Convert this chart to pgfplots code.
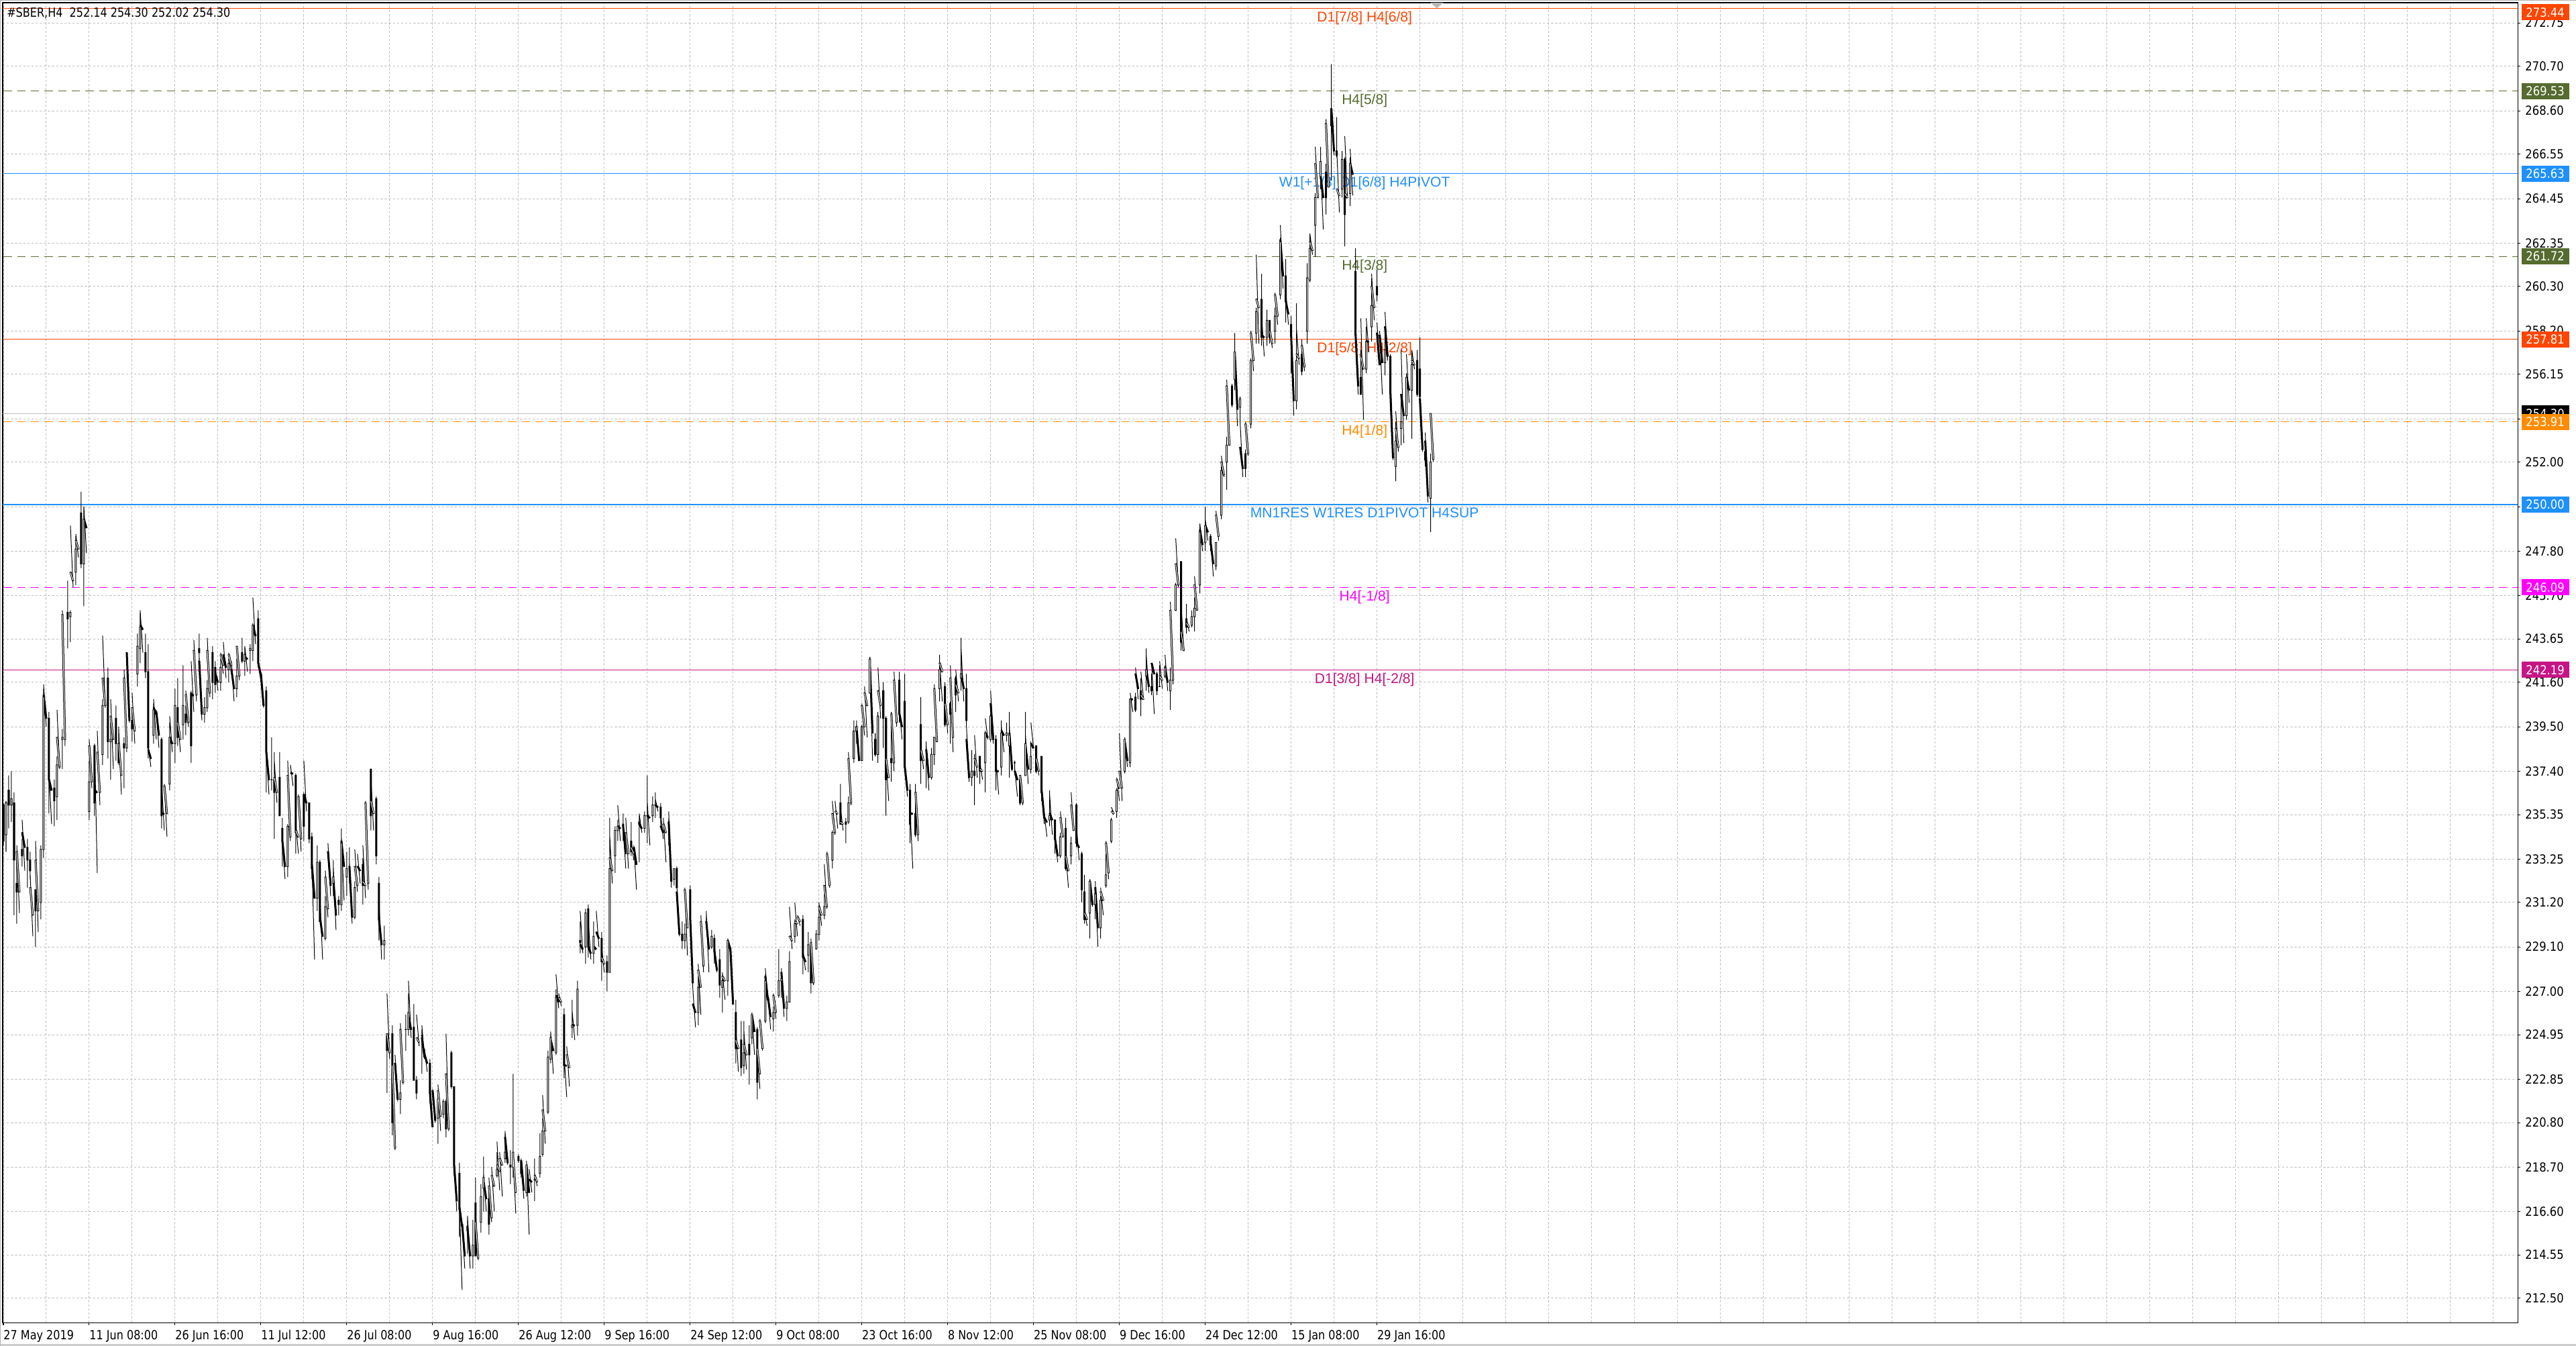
\documentclass[border=0pt]{standalone}
\usepackage{pgfplots}
\pgfplotsset{compat=1.18}
\usepackage{pgfplotstable}
\usepackage{fontspec}
\setmainfont{Liberation Sans}
\newfontfamily\datefam[FakeStretch=0.85]{DejaVu Sans}
\newfontfamily\pricefam[FakeStretch=0.88]{DejaVu Sans}
\newcommand\dfont{\datefam\fontsize{7.7}{9}\selectfont}
\newcommand\pfont{\pricefam\fontsize{7.6}{8.5}\selectfont}
\newcommand\lfont{\fontsize{8.6}{10}\selectfont}
\definecolor{orangered}{HTML}{FF4500}
\definecolor{olivedk}{HTML}{556B2F}
\definecolor{dodger}{HTML}{1E90FF}
\definecolor{darkorange}{HTML}{FF8C00}
\definecolor{magentac}{HTML}{FF00FF}
\definecolor{mvred}{HTML}{C71585}
\definecolor{gridgray}{HTML}{C0C0C0}

% each candle: (high, body top, up), (low, body bottom, up), separator
\pgfplotstableread{
w b u
235.9 235.8 0
233.9 234.1 0
nan nan 0
236.0 235.9 1
233.6 234.4 1
nan nan 0
237.2 236.5 0
234.7 235.8 0
nan nan 0
237.4 236.1 1
235.0 235.8 1
nan nan 0
236.4 235.9 0
230.6 233.2 0
nan nan 0
233.5 232.1 0
230.2 231.7 0
nan nan 0
233.9 233.6 1
230.7 231.7 1
nan nan 0
234.2 233.7 0
232.9 233.4 0
nan nan 0
235.1 234.5 0
232.7 233.8 0
nan nan 0
234.2 233.8 0
231.9 233.2 0
nan nan 0
233.6 233.2 0
232.3 232.7 0
nan nan 0
232.5 231.9 1
229.6 230.6 1
nan nan 0
231.8 231.8 0
229.1 230.8 0
nan nan 0
234.1 233.2 1
229.8 230.8 1
nan nan 0
233.9 233.7 1
230.4 231.2 1
nan nan 0
241.3 240.9 1
233.3 233.7 1
nan nan 0
241.5 241.0 0
239.5 239.9 0
nan nan 0
240.2 239.9 0
235.4 237.0 0
nan nan 0
237.3 237.0 0
234.9 236.5 0
nan nan 0
237.0 236.6 0
234.8 236.0 0
nan nan 0
238.1 237.7 1
235.1 236.2 1
nan nan 0
240.3 239.0 1
237.5 237.6 1
nan nan 0
239.4 239.0 1
237.5 238.9 1
nan nan 0
245.0 244.8 1
238.6 238.9 1
nan nan 0
246.4 244.9 0
243.2 244.6 0
nan nan 0
245.0 244.9 1
243.5 244.7 1
nan nan 0
249.0 246.8 1
246.1 246.4 1
nan nan 0
248.5 247.9 1
246.2 246.8 1
nan nan 0
248.6 248.3 1
247.5 247.9 1
nan nan 0
250.6 249.6 0
247.0 247.2 0
nan nan 0
249.9 249.3 1
245.2 247.2 1
nan nan 0
249.9 249.3 0
247.7 248.9 0
nan nan 0
237.9 236.9 1
235.1 235.5 1
nan nan 0
238.9 238.6 1
236.6 236.9 1
nan nan 0
238.7 238.6 0
235.3 235.9 0
nan nan 0
238.7 236.5 0
232.6 236.4 0
nan nan 0
239.3 238.3 1
235.8 236.4 1
nan nan 0
240.8 240.5 1
237.7 238.2 1
nan nan 0
243.8 241.8 1
240.4 240.5 1
nan nan 0
242.3 241.8 0
238.0 238.8 0
nan nan 0
239.7 238.9 1
237.0 238.8 1
nan nan 0
240.8 240.0 1
237.5 238.9 1
nan nan 0
240.5 239.9 0
237.9 238.7 0
nan nan 0
239.5 238.7 0
237.7 237.8 0
nan nan 0
239.4 238.7 1
236.3 237.2 1
nan nan 0
239.0 238.7 0
236.6 238.5 0
nan nan 0
242.2 241.8 1
238.3 238.5 1
nan nan 0
243.0 243.0 0
239.7 239.8 0
nan nan 0
240.4 239.8 0
238.8 239.4 0
nan nan 0
241.1 240.4 1
238.7 239.3 1
nan nan 0
243.9 243.3 1
241.4 242.0 1
nan nan 0
244.9 244.2 1
242.5 243.2 1
nan nan 0
245.0 244.3 0
243.0 244.1 0
nan nan 0
243.9 243.0 0
241.8 242.1 0
nan nan 0
243.4 242.1 0
238.0 238.5 0
nan nan 0
238.6 238.4 0
237.6 238.0 0
nan nan 0
240.6 240.3 1
238.7 239.1 1
nan nan 0
240.8 240.4 0
238.9 240.1 0
nan nan 0
240.3 240.2 0
238.5 239.1 0
nan nan 0
239.0 238.9 0
234.7 235.3 0
nan nan 0
236.8 235.4 0
234.6 235.4 0
nan nan 0
236.8 236.7 1
234.3 235.4 1
nan nan 0
239.7 239.0 1
236.5 236.8 1
nan nan 0
240.0 239.0 0
238.3 238.7 0
nan nan 0
241.3 240.5 1
237.8 238.7 1
nan nan 0
241.8 240.4 0
238.6 239.0 0
nan nan 0
239.9 239.7 1
238.3 238.9 1
nan nan 0
242.4 240.5 1
238.9 239.6 1
nan nan 0
240.5 240.1 0
239.1 239.7 0
nan nan 0
241.2 241.0 1
239.5 239.7 1
nan nan 0
241.2 241.1 0
237.8 238.6 0
nan nan 0
242.6 241.0 0
240.2 241.0 0
nan nan 0
243.6 243.1 1
240.7 241.0 1
nan nan 0
243.9 243.2 0
242.3 243.0 0
nan nan 0
242.8 242.6 0
239.8 240.1 0
nan nan 0
240.9 240.4 1
239.7 240.1 1
nan nan 0
241.7 241.3 1
240.2 240.4 1
nan nan 0
243.7 243.1 1
240.9 241.1 1
nan nan 0
243.3 243.0 0
240.8 241.6 0
nan nan 0
242.6 242.3 0
241.1 241.5 0
nan nan 0
242.3 242.0 0
241.2 241.6 0
nan nan 0
242.7 242.3 1
241.2 241.6 1
nan nan 0
243.0 242.9 1
242.0 242.4 1
nan nan 0
243.5 242.9 0
241.8 242.3 0
nan nan 0
242.7 242.5 1
241.6 242.2 1
nan nan 0
243.0 242.9 1
242.0 242.4 1
nan nan 0
242.6 242.2 0
240.7 241.3 0
nan nan 0
242.7 241.9 1
240.9 241.3 1
nan nan 0
243.3 243.3 1
241.7 241.9 1
nan nan 0
243.7 243.0 0
242.5 242.6 0
nan nan 0
243.3 242.9 1
241.9 242.6 1
nan nan 0
243.3 242.8 0
242.1 242.7 0
nan nan 0
243.4 243.2 1
242.0 243.1 1
nan nan 0
244.4 244.3 1
242.6 243.1 1
nan nan 0
245.6 244.3 0
243.4 243.8 0
nan nan 0
245.0 244.6 0
242.3 242.5 0
nan nan 0
242.7 242.5 0
241.6 241.9 0
nan nan 0
242.1 242.0 0
240.4 240.5 0
nan nan 0
241.4 241.2 0
236.4 238.3 0
nan nan 0
238.5 238.3 0
236.3 237.0 0
nan nan 0
239.0 237.0 0
236.5 237.0 0
nan nan 0
238.3 237.0 0
234.2 236.4 0
nan nan 0
237.9 237.1 1
235.9 236.4 1
nan nan 0
238.3 237.1 0
235.3 235.3 0
nan nan 0
235.2 234.7 0
232.9 234.1 0
nan nan 0
234.2 234.1 0
232.3 232.9 0
nan nan 0
234.9 234.8 1
232.4 232.9 1
nan nan 0
237.9 237.2 1
234.1 234.3 1
nan nan 0
237.7 237.3 0
236.7 237.3 0
nan nan 0
237.3 237.2 0
233.5 234.5 0
nan nan 0
234.9 234.6 1
233.5 234.3 1
nan nan 0
236.3 236.2 1
233.6 234.2 1
nan nan 0
236.4 236.3 0
234.1 234.8 0
nan nan 0
237.9 236.3 0
235.5 235.9 0
nan nan 0
235.9 235.9 0
234.0 234.2 0
nan nan 0
234.5 234.3 0
232.3 232.8 0
nan nan 0
233.2 233.0 0
228.5 231.4 0
nan nan 0
233.9 233.1 1
230.8 231.4 1
nan nan 0
233.2 233.1 0
230.3 230.3 0
nan nan 0
231.5 230.5 0
228.5 229.6 0
nan nan 0
231.5 231.0 1
229.4 229.5 1
nan nan 0
232.7 232.4 1
230.5 230.9 1
nan nan 0
234.0 233.6 0
231.5 232.0 0
nan nan 0
233.2 232.4 1
231.5 232.1 1
nan nan 0
232.9 232.3 0
229.9 230.6 0
nan nan 0
231.5 231.3 0
230.6 231.1 0
nan nan 0
234.7 234.0 1
230.8 231.1 1
nan nan 0
234.3 234.1 0
231.3 232.9 0
nan nan 0
233.6 232.8 1
231.5 232.4 1
nan nan 0
233.8 232.9 0
232.1 232.9 0
nan nan 0
233.1 232.9 0
230.2 230.5 0
nan nan 0
232.2 231.9 1
230.4 230.5 1
nan nan 0
233.7 232.9 1
231.7 232.0 1
nan nan 0
233.5 232.9 0
232.1 232.7 0
nan nan 0
233.3 233.0 0
231.1 232.0 0
nan nan 0
233.9 232.2 1
231.4 232.0 1
nan nan 0
236.0 235.9 1
231.8 232.1 1
nan nan 0
237.5 237.5 0
234.6 235.3 0
nan nan 0
237.1 236.0 1
234.6 235.4 1
nan nan 0
236.2 236.1 0
233.0 233.4 0
nan nan 0
232.4 232.1 0
229.4 230.4 0
nan nan 0
231.3 230.4 0
228.5 229.2 0
nan nan 0
230.1 229.4 1
228.5 229.2 1
nan nan 0
224.9 224.9 0
222.2 224.2 0
nan nan 0
226.9 225.0 1
223.8 224.1 1
nan nan 0
225.4 225.0 0
220.2 220.8 0
nan nan 0
223.8 223.5 1
219.5 219.6 1
nan nan 0
224.0 223.6 0
221.8 221.9 0
nan nan 0
222.8 222.2 1
221.2 221.9 1
nan nan 0
225.5 225.2 1
222.6 222.7 1
nan nan 0
225.9 225.2 0
224.2 225.2 0
nan nan 0
226.9 226.0 1
224.9 225.2 1
nan nan 0
227.5 225.8 0
224.8 225.2 0
nan nan 0
226.4 225.3 0
222.8 222.8 0
nan nan 0
223.0 222.8 0
221.9 222.2 0
nan nan 0
225.9 224.8 1
224.4 224.6 1
nan nan 0
225.2 224.9 0
223.1 224.9 0
nan nan 0
225.4 224.8 0
223.8 223.9 0
nan nan 0
224.3 224.0 0
223.2 223.6 0
nan nan 0
223.8 223.6 0
221.7 222.2 0
nan nan 0
222.8 222.2 0
220.6 220.6 0
nan nan 0
222.4 222.3 0
220.8 220.9 0
nan nan 0
222.2 221.9 1
219.8 221.0 1
nan nan 0
222.6 222.3 1
220.4 221.1 1
nan nan 0
221.9 221.8 1
221.0 221.2 1
nan nan 0
221.9 221.8 0
220.1 220.5 0
nan nan 0
225.0 223.1 1
220.4 220.5 1
nan nan 0
224.2 224.1 0
222.4 222.5 0
nan nan 0
222.5 222.5 0
218.3 218.8 0
nan nan 0
219.2 218.8 0
216.6 217.1 0
nan nan 0
218.9 218.4 0
215.4 216.7 0
nan nan 0
216.9 216.8 0
212.9 215.9 0
nan nan 0
216.0 216.0 0
213.9 214.5 0
nan nan 0
216.3 215.9 0
214.6 215.7 0
nan nan 0
216.4 215.8 0
213.9 214.5 0
nan nan 0
216.2 215.0 1
213.9 214.5 1
nan nan 0
218.2 217.0 0
214.5 214.5 0
nan nan 0
216.6 216.1 1
214.3 214.4 1
nan nan 0
217.9 217.3 1
215.6 216.1 1
nan nan 0
219.2 218.2 1
216.6 217.7 1
nan nan 0
218.4 218.0 0
216.6 217.2 0
nan nan 0
217.7 217.2 0
215.5 216.0 0
nan nan 0
218.2 217.8 1
216.1 216.3 1
nan nan 0
218.7 218.3 1
216.6 217.8 1
nan nan 0
219.4 218.6 1
218.2 218.3 1
nan nan 0
219.9 218.8 1
217.6 218.5 1
nan nan 0
219.4 219.1 1
217.3 218.8 1
nan nan 0
220.3 219.4 1
218.9 219.1 1
nan nan 0
220.4 220.1 0
218.8 218.9 0
nan nan 0
219.5 218.8 0
217.9 218.7 0
nan nan 0
223.1 219.4 1
218.2 218.7 1
nan nan 0
219.4 219.2 1
216.5 217.5 1
nan nan 0
219.3 219.2 0
218.9 219.0 0
nan nan 0
219.1 219.0 0
218.2 218.4 0
nan nan 0
219.1 219.0 0
217.2 217.6 0
nan nan 0
218.8 218.8 1
217.3 217.5 1
nan nan 0
219.0 218.8 0
215.5 217.5 0
nan nan 0
218.6 218.1 0
217.5 218.0 0
nan nan 0
219.1 218.1 0
217.1 218.1 0
nan nan 0
218.4 218.3 1
217.8 218.0 1
nan nan 0
220.3 219.2 1
218.2 218.4 1
nan nan 0
221.0 220.4 1
219.2 219.3 1
nan nan 0
222.1 221.4 1
219.8 220.4 1
nan nan 0
224.2 223.9 1
221.2 221.3 1
nan nan 0
225.1 224.8 1
223.6 223.8 1
nan nan 0
225.1 224.7 0
223.1 224.2 0
nan nan 0
227.1 226.7 1
224.0 224.1 1
nan nan 0
227.8 226.8 0
226.2 226.5 0
nan nan 0
226.9 226.7 1
226.3 226.5 1
nan nan 0
226.2 225.9 0
222.9 223.5 0
nan nan 0
224.0 223.5 0
222.0 223.5 0
nan nan 0
224.4 224.0 1
222.5 223.4 1
nan nan 0
226.6 225.4 1
224.8 225.3 1
nan nan 0
226.1 225.4 0
224.7 225.4 0
nan nan 0
227.5 227.1 1
224.9 225.4 1
nan nan 0
230.3 229.4 0
228.8 229.3 0
nan nan 0
230.8 229.2 0
228.8 229.0 0
nan nan 0
230.9 230.7 1
228.3 229.1 1
nan nan 0
231.1 230.9 0
228.6 229.1 0
nan nan 0
230.4 229.1 0
228.5 228.8 0
nan nan 0
230.3 229.6 1
228.3 228.8 1
nan nan 0
229.2 229.1 0
229.0 229.0 0
nan nan 0
230.8 229.8 0
229.1 229.5 0
nan nan 0
229.8 229.5 0
227.5 228.4 0
nan nan 0
229.1 228.6 1
227.9 228.3 1
nan nan 0
228.7 228.4 0
227.0 227.9 0
nan nan 0
235.2 232.8 1
227.9 227.9 1
nan nan 0
234.4 233.3 1
232.1 232.7 1
nan nan 0
234.8 234.6 1
232.6 233.4 1
nan nan 0
235.1 234.8 1
234.1 234.6 1
nan nan 0
235.8 234.8 0
234.1 234.7 0
nan nan 0
235.4 234.9 0
234.1 234.8 0
nan nan 0
234.9 234.8 0
232.8 233.5 0
nan nan 0
235.2 234.5 1
232.8 233.5 1
nan nan 0
235.0 234.1 0
233.4 233.6 0
nan nan 0
234.1 233.8 1
233.2 233.5 1
nan nan 0
233.9 233.8 0
231.8 233.0 0
nan nan 0
235.3 235.0 0
233.1 234.9 0
nan nan 0
235.4 234.9 0
234.5 234.7 0
nan nan 0
235.5 235.3 1
234.5 234.7 1
nan nan 0
237.2 235.3 0
234.0 235.3 0
nan nan 0
236.0 235.3 0
233.9 235.2 0
nan nan 0
236.2 235.8 1
235.0 235.3 1
nan nan 0
236.4 235.8 0
235.2 235.8 0
nan nan 0
236.1 235.8 0
235.5 235.7 0
nan nan 0
235.9 235.7 0
234.8 235.2 0
nan nan 0
235.4 234.8 0
234.2 234.5 0
nan nan 0
235.2 234.9 1
233.1 234.5 1
nan nan 0
235.2 234.9 0
233.9 234.9 0
nan nan 0
235.5 235.0 0
231.9 232.2 0
nan nan 0
232.8 232.8 1
232.0 232.3 1
nan nan 0
232.9 232.8 0
231.9 231.9 0
nan nan 0
232.1 231.7 0
229.6 229.7 0
nan nan 0
230.3 229.7 0
229.0 229.4 0
nan nan 0
230.2 229.7 1
229.0 229.4 1
nan nan 0
231.9 231.8 1
228.7 230.0 1
nan nan 0
232.0 231.8 0
230.4 230.5 0
nan nan 0
230.6 230.5 0
227.1 227.4 0
nan nan 0
227.1 226.4 0
225.3 226.0 0
nan nan 0
227.7 227.2 1
225.4 226.0 1
nan nan 0
228.3 228.0 1
225.9 227.2 1
nan nan 0
230.6 230.3 1
227.9 228.2 1
nan nan 0
230.6 230.3 0
230.0 230.3 0
nan nan 0
230.8 230.3 0
227.9 229.0 0
nan nan 0
229.9 229.6 1
229.0 229.1 1
nan nan 0
229.7 229.5 0
228.3 228.9 0
nan nan 0
229.3 228.9 0
227.9 228.0 0
nan nan 0
229.0 228.5 0
226.7 227.3 0
nan nan 0
227.8 227.5 1
226.0 227.2 1
nan nan 0
227.9 227.7 1
226.6 227.5 1
nan nan 0
229.5 229.4 1
226.8 227.5 1
nan nan 0
229.5 229.4 0
228.8 229.0 0
nan nan 0
229.1 229.0 0
226.4 226.4 0
nan nan 0
226.6 226.0 0
223.6 224.3 0
nan nan 0
225.3 224.7 1
223.2 224.3 1
nan nan 0
225.6 224.7 0
223.0 223.4 0
nan nan 0
225.6 224.1 1
223.1 223.5 1
nan nan 0
225.2 224.5 1
223.3 224.0 1
nan nan 0
225.4 224.5 0
222.6 224.0 0
nan nan 0
226.0 225.9 1
224.5 224.8 1
nan nan 0
226.0 225.9 0
224.0 225.1 0
nan nan 0
225.3 225.2 0
221.9 222.7 0
nan nan 0
224.5 224.3 1
222.4 223.1 1
nan nan 0
225.7 225.6 1
224.2 224.3 1
nan nan 0
227.8 227.5 1
225.5 225.6 1
nan nan 0
228.1 227.7 0
226.6 226.6 0
nan nan 0
226.8 226.7 0
225.2 225.8 0
nan nan 0
226.3 226.0 1
225.1 225.7 1
nan nan 0
226.9 226.8 1
225.7 226.0 1
nan nan 0
229.0 227.5 1
226.7 226.8 1
nan nan 0
228.1 227.6 1
226.7 227.5 1
nan nan 0
227.9 227.9 0
225.8 226.2 0
nan nan 0
226.8 226.5 1
225.6 226.2 1
nan nan 0
228.9 228.4 1
226.5 226.5 1
nan nan 0
231.0 229.6 1
229.0 229.4 1
nan nan 0
230.4 230.2 1
229.3 229.6 1
nan nan 0
231.2 230.3 1
229.6 230.2 1
nan nan 0
230.6 230.5 1
230.1 230.3 1
nan nan 0
230.6 230.4 0
227.8 228.6 0
nan nan 0
229.0 228.7 0
228.0 228.4 0
nan nan 0
229.8 229.2 1
227.9 228.7 1
nan nan 0
229.3 229.2 0
226.9 227.4 0
nan nan 0
229.5 229.3 1
227.3 227.4 1
nan nan 0
229.9 229.7 1
229.0 229.0 1
nan nan 0
231.1 230.5 1
229.4 229.7 1
nan nan 0
231.2 231.0 1
230.1 230.6 1
nan nan 0
231.6 231.0 1
230.4 230.6 1
nan nan 0
233.0 232.0 1
230.9 231.0 1
nan nan 0
233.6 233.5 1
231.9 232.0 1
nan nan 0
234.6 234.5 1
232.8 233.2 1
nan nan 0
236.0 235.4 1
234.4 234.5 1
nan nan 0
236.0 235.5 1
234.7 235.4 1
nan nan 0
236.8 235.9 0
234.9 234.9 0
nan nan 0
235.7 235.0 1
234.6 234.9 1
nan nan 0
235.2 235.0 0
234.0 234.9 0
nan nan 0
236.2 235.9 1
234.9 235.0 1
nan nan 0
238.3 238.0 1
235.8 235.9 1
nan nan 0
239.8 239.3 1
237.8 238.0 1
nan nan 0
239.8 239.5 1
238.7 239.3 1
nan nan 0
239.7 239.5 0
237.9 237.9 0
nan nan 0
239.6 239.5 1
237.9 237.9 1
nan nan 0
240.6 240.5 1
239.1 239.5 1
nan nan 0
241.4 241.1 1
239.0 240.5 1
nan nan 0
242.8 242.7 1
241.1 241.1 1
nan nan 0
242.6 242.5 0
237.9 239.2 0
nan nan 0
239.2 238.9 0
238.1 238.2 0
nan nan 0
240.2 240.0 1
237.8 238.2 1
nan nan 0
242.3 241.2 1
239.9 240.5 1
nan nan 0
241.6 241.2 0
238.5 239.9 0
nan nan 0
240.0 239.9 0
235.3 237.0 0
nan nan 0
238.0 238.0 1
236.0 237.1 1
nan nan 0
240.2 238.0 0
236.9 237.8 0
nan nan 0
240.2 240.1 1
237.4 237.8 1
nan nan 0
242.1 241.7 1
239.5 239.7 1
nan nan 0
242.1 241.7 0
239.7 240.1 0
nan nan 0
240.3 240.1 0
238.9 239.5 0
nan nan 0
242.0 240.7 0
237.5 237.6 0
nan nan 0
237.7 237.6 0
236.2 236.5 0
nan nan 0
236.8 236.5 0
234.0 234.9 0
nan nan 0
235.5 235.4 0
232.8 235.4 0
nan nan 0
236.8 235.4 0
234.3 234.4 0
nan nan 0
236.4 236.4 1
234.1 234.4 1
nan nan 0
240.9 239.6 0
236.8 237.9 0
nan nan 0
238.6 238.4 1
237.5 237.9 1
nan nan 0
238.8 238.4 0
236.6 238.4 0
nan nan 0
238.6 238.4 0
236.5 237.1 0
nan nan 0
238.5 238.2 1
237.0 237.1 1
nan nan 0
239.0 239.0 1
237.7 238.2 1
nan nan 0
241.5 241.3 1
238.8 238.8 1
nan nan 0
242.9 242.2 1
240.7 241.3 1
nan nan 0
242.5 242.5 1
240.7 242.1 1
nan nan 0
241.6 241.4 0
239.5 239.6 0
nan nan 0
240.8 240.6 1
239.2 239.6 1
nan nan 0
240.7 240.6 0
238.7 240.1 0
nan nan 0
242.4 241.8 1
238.3 239.0 1
nan nan 0
241.9 241.8 0
240.2 241.0 0
nan nan 0
242.2 241.5 1
240.7 241.1 1
nan nan 0
243.7 242.0 1
241.2 241.8 1
nan nan 0
243.2 242.0 0
240.7 241.3 0
nan nan 0
242.0 241.3 0
239.5 239.8 0
nan nan 0
239.5 238.9 0
236.9 237.1 0
nan nan 0
238.4 237.4 1
236.7 237.1 1
nan nan 0
238.2 237.4 0
235.8 237.2 0
nan nan 0
239.1 238.0 1
237.1 237.6 1
nan nan 0
238.1 238.1 0
236.8 237.4 0
nan nan 0
237.8 237.5 1
237.0 237.4 1
nan nan 0
239.3 239.2 1
236.4 237.8 1
nan nan 0
239.9 239.2 0
238.9 239.0 0
nan nan 0
240.1 240.0 1
238.8 238.9 1
nan nan 0
241.2 240.6 0
238.7 238.9 0
nan nan 0
239.1 238.9 0
236.5 237.4 0
nan nan 0
237.9 237.4 0
236.3 237.4 0
nan nan 0
239.8 239.2 1
237.2 237.6 1
nan nan 0
239.5 239.3 0
238.3 239.1 0
nan nan 0
239.7 239.2 1
238.8 239.1 1
nan nan 0
240.2 239.1 1
237.1 238.6 1
nan nan 0
239.5 239.2 0
237.4 237.5 0
nan nan 0
237.9 237.8 0
237.2 237.8 0
nan nan 0
237.5 237.4 0
236.2 237.0 0
nan nan 0
237.1 237.0 0
235.8 235.9 0
nan nan 0
237.2 237.2 1
235.8 235.9 1
nan nan 0
240.2 238.7 1
237.2 237.2 1
nan nan 0
239.1 238.6 0
236.8 237.5 0
nan nan 0
238.8 238.1 1
237.3 237.5 1
nan nan 0
239.7 238.7 0
238.5 238.5 0
nan nan 0
238.6 238.6 0
237.3 237.4 0
nan nan 0
238.1 238.0 1
237.2 237.4 1
nan nan 0
238.1 238.1 0
236.0 236.4 0
nan nan 0
236.5 236.5 0
234.9 235.2 0
nan nan 0
235.4 235.2 0
234.3 235.0 0
nan nan 0
236.5 235.3 1
234.8 235.1 1
nan nan 0
236.3 235.4 0
234.4 235.1 0
nan nan 0
235.1 235.1 0
233.5 234.2 0
nan nan 0
234.3 234.2 0
233.1 233.4 0
nan nan 0
234.5 234.3 1
233.3 233.4 1
nan nan 0
235.5 235.2 1
234.3 234.3 1
nan nan 0
235.2 234.7 0
232.7 232.8 0
nan nan 0
233.5 233.4 1
231.9 232.7 1
nan nan 0
234.3 234.0 1
233.0 233.4 1
nan nan 0
236.4 235.8 1
234.6 234.6 1
nan nan 0
235.9 235.8 0
233.8 234.0 0
nan nan 0
234.8 234.0 0
233.2 233.8 0
nan nan 0
233.6 233.5 0
231.2 231.8 0
nan nan 0
232.5 231.7 0
230.2 230.4 0
nan nan 0
230.7 230.7 1
230.1 230.4 1
nan nan 0
232.3 232.2 1
229.5 230.7 1
nan nan 0
232.3 232.2 0
231.0 231.1 0
nan nan 0
231.9 231.6 1
230.4 231.1 1
nan nan 0
232.2 231.9 0
229.1 230.0 0
nan nan 0
231.5 231.3 1
229.5 230.0 1
nan nan 0
231.9 231.7 1
230.6 231.3 1
nan nan 0
233.5 232.5 1
231.9 232.0 1
nan nan 0
234.1 234.0 1
232.3 232.6 1
nan nan 0
235.2 235.1 1
234.0 234.1 1
nan nan 0
235.7 235.5 1
235.4 235.4 1
nan nan 0
236.6 236.5 1
235.2 235.5 1
nan nan 0
237.1 237.0 1
236.0 236.6 1
nan nan 0
239.2 237.4 1
236.0 236.6 1
nan nan 0
238.9 238.9 1
237.3 237.4 1
nan nan 0
239.0 238.8 0
237.6 237.9 0
nan nan 0
240.8 240.8 1
237.6 237.8 1
nan nan 0
241.1 240.8 0
240.2 240.8 0
nan nan 0
241.1 240.9 0
240.2 240.3 0
nan nan 0
242.3 242.0 0
240.8 241.3 0
nan nan 0
241.8 241.2 0
240.0 240.8 0
nan nan 0
242.1 241.0 1
240.8 240.8 1
nan nan 0
243.2 242.2 1
241.2 241.9 1
nan nan 0
242.9 242.2 0
241.1 241.4 0
nan nan 0
242.0 241.4 0
241.0 241.2 0
nan nan 0
242.5 242.5 0
240.1 242.0 0
nan nan 0
242.1 242.0 0
241.0 241.2 0
nan nan 0
242.4 241.4 0
241.4 241.4 0
nan nan 0
242.6 241.9 1
241.3 241.7 1
nan nan 0
242.4 242.3 1
241.8 241.9 1
nan nan 0
242.9 242.3 0
241.2 241.6 0
nan nan 0
242.3 241.7 1
240.3 241.2 1
nan nan 0
245.4 245.0 1
241.5 241.7 1
nan nan 0
246.3 246.2 1
245.0 245.0 1
nan nan 0
248.4 247.2 1
246.1 246.2 1
nan nan 0
247.3 247.3 0
243.1 243.5 0
nan nan 0
245.3 244.0 1
243.1 243.1 1
nan nan 0
245.3 244.6 0
243.9 244.2 0
nan nan 0
244.6 244.4 1
244.0 244.2 1
nan nan 0
245.0 244.7 1
244.2 244.3 1
nan nan 0
245.6 245.1 1
244.0 244.7 1
nan nan 0
246.6 246.2 1
245.0 245.0 1
nan nan 0
249.1 248.7 1
245.8 246.2 1
nan nan 0
249.1 248.8 0
247.8 248.1 0
nan nan 0
249.9 249.0 1
247.8 248.2 1
nan nan 0
249.3 249.0 0
248.3 248.7 0
nan nan 0
248.6 248.5 0
247.8 248.1 0
nan nan 0
248.5 248.2 0
246.6 247.2 0
nan nan 0
248.2 248.2 1
246.9 247.1 1
nan nan 0
249.7 249.5 1
248.3 248.5 1
nan nan 0
251.8 251.6 1
249.3 249.5 1
nan nan 0
252.3 252.0 1
251.3 251.4 1
nan nan 0
253.2 252.8 1
250.7 252.0 1
nan nan 0
255.9 255.6 1
252.8 252.8 1
nan nan 0
255.7 255.6 0
254.6 254.7 0
nan nan 0
258.1 257.2 1
255.4 255.9 1
nan nan 0
257.3 257.2 0
253.7 254.5 0
nan nan 0
255.1 255.0 1
253.9 254.6 1
nan nan 0
253.9 252.7 0
251.3 251.7 0
nan nan 0
252.6 252.4 0
251.3 251.7 0
nan nan 0
253.9 253.8 1
252.3 252.4 1
nan nan 0
256.9 256.8 1
253.6 253.8 1
nan nan 0
258.2 258.1 1
256.3 256.8 1
nan nan 0
259.3 259.1 1
257.6 258.1 1
nan nan 0
261.8 259.7 1
257.6 259.3 1
nan nan 0
260.9 259.7 0
257.5 257.9 0
nan nan 0
258.9 258.0 0
257.0 257.9 0
nan nan 0
259.2 258.7 1
257.5 257.9 1
nan nan 0
258.7 258.7 0
257.6 257.9 0
nan nan 0
258.3 258.2 1
257.4 257.6 1
nan nan 0
259.3 258.9 1
257.6 258.2 1
nan nan 0
260.0 259.9 1
258.5 258.9 1
nan nan 0
262.6 262.4 1
259.7 259.9 1
nan nan 0
263.2 262.5 0
260.2 260.8 0
nan nan 0
261.6 260.8 0
258.6 259.6 0
nan nan 0
260.1 259.6 0
258.5 259.0 0
nan nan 0
258.9 258.5 0
256.2 258.0 0
nan nan 0
258.1 258.0 0
254.2 254.9 0
nan nan 0
259.5 256.8 1
254.5 254.9 1
nan nan 0
258.3 257.1 1
256.6 256.9 1
nan nan 0
257.8 257.1 0
256.1 256.3 0
nan nan 0
257.6 257.5 1
256.3 256.5 1
nan nan 0
261.4 260.7 1
257.6 258.2 1
nan nan 0
262.8 262.1 1
260.5 260.6 1
nan nan 0
262.8 262.4 1
261.8 262.0 1
nan nan 0
264.7 264.5 1
261.7 263.2 1
nan nan 0
266.9 266.1 1
264.5 264.5 1
nan nan 0
266.9 266.2 1
264.9 265.5 1
nan nan 0
266.0 265.5 0
263.0 264.5 0
nan nan 0
266.1 265.7 0
263.7 264.5 0
nan nan 0
268.2 268.0 1
265.0 265.0 1
nan nan 0
270.8 268.7 0
265.3 267.9 0
nan nan 0
268.8 268.7 0
266.5 266.7 0
nan nan 0
268.3 266.7 0
266.4 266.5 0
nan nan 0
266.8 264.9 1
263.8 264.6 1
nan nan 0
266.7 266.3 1
264.5 264.9 1
nan nan 0
266.4 266.3 0
262.2 263.7 0
nan nan 0
267.4 264.7 1
264.5 264.5 1
nan nan 0
266.4 266.1 1
264.1 264.7 1
nan nan 0
266.8 266.1 0
264.6 265.6 0
nan nan 0
262.1 261.0 0
258.0 258.0 0
nan nan 0
258.1 258.1 0
255.2 255.6 0
nan nan 0
257.3 256.0 0
255.2 255.2 0
nan nan 0
258.8 257.0 1
254.0 256.4 1
nan nan 0
258.4 257.7 1
256.2 256.4 1
nan nan 0
258.8 257.7 0
257.2 257.7 0
nan nan 0
260.7 259.4 1
257.7 258.4 1
nan nan 0
260.9 260.3 1
258.7 259.3 1
nan nan 0
261.1 260.3 0
259.6 259.9 0
nan nan 0
258.6 258.1 0
256.6 256.6 0
nan nan 0
258.2 258.0 0
255.2 256.7 0
nan nan 0
258.1 257.3 1
256.1 256.7 1
nan nan 0
259.1 258.4 0
256.8 257.0 0
nan nan 0
257.1 257.0 0
254.5 255.3 0
nan nan 0
256.2 255.3 0
252.1 252.2 0
nan nan 0
253.9 253.0 1
251.1 251.8 1
nan nan 0
254.4 253.6 1
252.5 252.7 1
nan nan 0
254.9 253.9 1
252.8 253.6 1
nan nan 0
257.3 255.2 0
252.9 254.2 0
nan nan 0
256.2 256.0 1
254.0 254.2 1
nan nan 0
257.1 256.0 0
254.8 255.4 0
nan nan 0
257.3 256.6 1
253.1 255.4 1
nan nan 0
257.3 256.8 1
256.4 256.6 1
nan nan 0
257.3 256.8 0
255.1 255.2 0
nan nan 0
257.9 256.4 0
254.4 255.1 0
nan nan 0
255.1 255.0 0
252.5 252.6 0
nan nan 0
252.8 252.5 0
251.8 252.1 0
nan nan 0
253.4 253.0 0
250.1 250.4 0
nan nan 0
252.4 252.0 1
248.7 250.3 1
nan nan 0
254.30 254.30 1
252.02 252.14 1
nan nan 0
}\candles

\begin{document}
\begin{tikzpicture}[x=1pt,y=1pt]
\fill[white] (0,-819) rectangle (1568,0);
\useasboundingbox (0,-819) rectangle (1568,0);
\begin{axis}[
  at={(1.6pt,-1.6pt)}, anchor=north west,
  scale only axis, width=1531pt, height=803.4pt,
  xmin=-0.27, xmax=937.3, ymin=211.34, ymax=273.71,
  axis line style={black, line width=0.6pt},
  tick align=outside, major tick length=1.5pt, minor tick length=0pt,
  tick style={black, line width=0.41pt},
  xtick pos=bottom, ytick pos=right, yticklabel pos=right,
  xtick={0,32,64,96,128,160,192,224,256,288,320,352,384,416,448,480,512},
  xticklabels={27 May 2019,11 Jun 08:00,26 Jun 16:00,11 Jul 12:00,26 Jul 08:00,9 Aug 16:00,26 Aug 12:00,9 Sep 16:00,24 Sep 12:00,9 Oct 08:00,23 Oct 16:00,8 Nov 12:00,25 Nov 08:00,9 Dec 16:00,24 Dec 12:00,15 Jan 08:00,29 Jan 16:00},
  minor xtick={16,48,80,112,144,176,208,240,272,304,336,368,400,432,464,496,528,544,560,576,592,608,624,640,656,672,688,704,720,736,752,768,784,800,816,832,848,864,880,896,912,928},
  ytick={272.75,270.70,268.60,266.55,264.45,262.35,260.30,258.20,256.15,254.05,252.00,249.90,247.80,245.70,243.65,241.60,239.50,237.40,235.35,233.25,231.20,229.10,227.00,224.95,222.85,220.80,218.70,216.60,214.55,212.50},
  yticklabels={272.75,270.70,268.60,266.55,264.45,262.35,260.30,258.20,256.15,254.05,252.00,249.90,247.80,245.70,243.65,241.60,239.50,237.40,235.35,233.25,231.20,229.10,227.00,224.95,222.85,220.80,218.70,216.60,214.55,212.50},
  xticklabel style={font=\dfont, anchor=north west, inner sep=0pt, yshift=-2.6pt},
  yticklabel style={font=\pfont, anchor=west, inner sep=0pt, xshift=2.8pt},
  xmajorgrids, xminorgrids, ymajorgrids,
  major grid style={draw=gridgray, line width=0.41pt, dash pattern=on 1.4pt off 1.1pt},
  minor grid style={draw=gridgray, line width=0.41pt, dash pattern=on 1.4pt off 1.1pt},
  unbounded coords=jump,
]
% level lines
\addplot[forget plot, orangered, line width=0.5pt] coordinates {(-5,273.44) (945,273.44)};
\addplot[forget plot, olivedk, line width=0.5pt, dash pattern=on 5pt off 3.3pt] coordinates {(-5,269.53) (945,269.53)};
\addplot[forget plot, dodger, line width=0.5pt] coordinates {(-5,265.63) (945,265.63)};
\addplot[forget plot, olivedk, line width=0.5pt, dash pattern=on 5pt off 3.3pt] coordinates {(-5,261.72) (945,261.72)};
\addplot[forget plot, orangered, line width=0.5pt] coordinates {(-5,257.81) (945,257.81)};
\addplot[forget plot, gridgray, line width=0.5pt] coordinates {(-5,254.30) (945,254.30)};
\addplot[forget plot, darkorange, line width=0.5pt, dash pattern=on 5pt off 3.3pt] coordinates {(-5,253.91) (945,253.91)};
\addplot[forget plot, dodger, line width=0.85pt] coordinates {(-5,250.00) (945,250.00)};
\addplot[forget plot, magentac, line width=0.5pt, dash pattern=on 5pt off 3.3pt] coordinates {(-5,246.09) (945,246.09)};
\addplot[forget plot, mvred, line width=0.5pt] coordinates {(-5,242.19) (945,242.19)};
% level labels
\node[font=\lfont, text=orangered, anchor=base, inner sep=0pt, yshift=-8.2pt] at (axis cs:507.4,273.44) {D1[7/8] H4[6/8]};
\node[font=\lfont, text=olivedk, anchor=base, inner sep=0pt, yshift=-8.2pt] at (axis cs:507.4,269.53) {H4[5/8]};
\node[font=\lfont, text=dodger, anchor=base, inner sep=0pt, yshift=-8.2pt] at (axis cs:507.4,265.63) {W1[+1/8] D1[6/8] H4PIVOT};
\node[font=\lfont, text=olivedk, anchor=base, inner sep=0pt, yshift=-8.2pt] at (axis cs:507.4,261.72) {H4[3/8]};
\node[font=\lfont, text=orangered, anchor=base, inner sep=0pt, yshift=-8.2pt] at (axis cs:507.4,257.81) {D1[5/8] H4[2/8]};
\node[font=\lfont, text=darkorange, anchor=base, inner sep=0pt, yshift=-8.2pt] at (axis cs:507.4,253.91) {H4[1/8]};
\node[font=\lfont, text=dodger, anchor=base, inner sep=0pt, yshift=-8.2pt] at (axis cs:507.4,250.00) {MN1RES W1RES D1PIVOT H4SUP};
\node[font=\lfont, text=magentac, anchor=base, inner sep=0pt, yshift=-8.2pt] at (axis cs:507.4,246.09) {H4[-1/8]};
\node[font=\lfont, text=mvred, anchor=base, inner sep=0pt, yshift=-8.2pt] at (axis cs:507.4,242.19) {D1[3/8] H4[-2/8]};
% candles: wicks (high to low)
\addplot[forget plot, black, line width=0.41pt, mark=none]
  table[x expr={floor(\coordindex/3)}, y=w] {\candles};
% bodies (outline width)
\addplot[forget plot, black, line width=1.23pt, mark=none]
  table[x expr={floor(\coordindex/3)}, y expr={\thisrow{b}+0.02*(1-2*mod(\coordindex,3))}] {\candles};
% hollow inside of rising candles
\addplot[forget plot, white, line width=0.41pt, mark=none, restrict expr to domain={\thisrow{u}}{0.5:1.5}]
  table[x expr={floor(\coordindex/3)}, y expr={\thisrow{b}-0.012*(1-2*mod(\coordindex,3))}] {\candles};
% coordinates for price boxes
\coordinate (b1) at (axis cs:937.3,273.44);
\coordinate (b2) at (axis cs:937.3,269.53);
\coordinate (b3) at (axis cs:937.3,265.63);
\coordinate (b4) at (axis cs:937.3,261.72);
\coordinate (b5) at (axis cs:937.3,257.81);
\coordinate (b6) at (axis cs:937.3,254.30);
\coordinate (b7) at (axis cs:937.3,253.91);
\coordinate (b8) at (axis cs:937.3,250.00);
\coordinate (b9) at (axis cs:937.3,246.09);
\coordinate (b10) at (axis cs:937.3,242.19);
\end{axis}
% price boxes
\tikzset{pbox/.style={text=white, font=\pfont, inner sep=0pt, minimum width=29pt, minimum height=9.8pt, anchor=west}}
\node[pbox, fill=orangered] at ([xshift=1.9pt,yshift=-2.4pt]b1) {273.44};
\node[pbox, fill=olivedk] at ([xshift=1.9pt]b2) {269.53};
\node[pbox, fill=dodger] at ([xshift=1.9pt]b3) {265.63};
\node[pbox, fill=olivedk] at ([xshift=1.9pt]b4) {261.72};
\node[pbox, fill=orangered] at ([xshift=1.9pt]b5) {257.81};
\node[pbox, fill=black] at ([xshift=1.9pt]b6) {254.30};
\node[pbox, fill=darkorange] at ([xshift=1.9pt]b7) {253.91};
\node[pbox, fill=dodger] at ([xshift=1.9pt]b8) {250.00};
\node[pbox, fill=magentac] at ([xshift=1.9pt]b9) {246.09};
\node[pbox, fill=mvred] at ([xshift=1.9pt]b10) {242.19};
% title
\node[font=\dfont, anchor=west, inner sep=0pt] at (4pt,-8pt) {\#SBER,H4\ \ 252.14 254.30 252.02 254.30};
% chart shift marker
\fill[gray!55] (870.7pt,-1.7pt) -- (878.5pt,-1.7pt) -- (874.6pt,-5pt) -- cycle;
% window edges
\draw[gray!40, line width=1.2pt] (0pt,-818.4pt) -- (1568pt,-818.4pt);
\draw[gray!60, line width=0.5pt] (0pt,-0.25pt) -- (1568pt,-0.25pt);
\draw[gray!60, line width=0.5pt] (0.25pt,0pt) -- (0.25pt,-819pt);
\end{tikzpicture}
\end{document}
